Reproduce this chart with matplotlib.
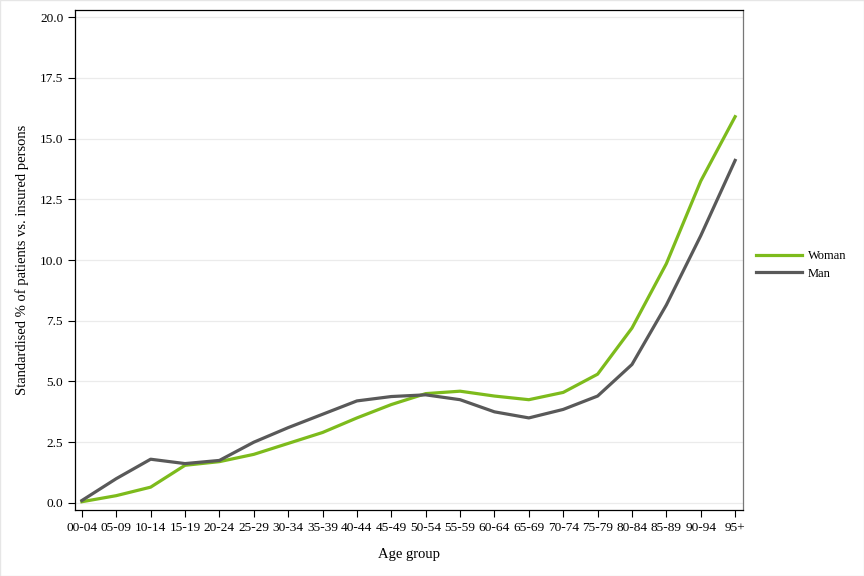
import matplotlib.pyplot as plt
import numpy as np

plt.rcParams['font.family'] = ['Liberation Serif', 'DejaVu Serif']

age_groups = ['00-04', '05-09', '10-14', '15-19', '20-24', '25-29', '30-34',
              '35-39', '40-44', '45-49', '50-54', '55-59', '60-64', '65-69',
              '70-74', '75-79', '80-84', '85-89', '90-94', '95+']
woman = [0.05, 0.3, 0.65, 1.55, 1.7, 2.0, 2.45, 2.9, 3.5, 4.05,
         4.5, 4.6, 4.4, 4.25, 4.55, 5.3, 7.2, 9.85, 13.25, 15.9]
man = [0.1, 1.0, 1.8, 1.62, 1.75, 2.5, 3.1, 3.65, 4.2, 4.38,
       4.45, 4.25, 3.75, 3.5, 3.85, 4.4, 5.7, 8.15, 11.0, 14.1]

fig = plt.figure(figsize=(8.64, 5.76), dpi=100)
ax = fig.add_axes([0.0868, 0.1146, 0.7732, 0.868])

x = np.arange(len(age_groups))
ax.plot(x, woman, color='#7dbb1c', lw=2.3, label='Woman', solid_joinstyle='round')
ax.plot(x, man, color='#595959', lw=2.3, label='Man', solid_joinstyle='round')

ax.set_xlim(-0.2, 19.23)
ax.set_ylim(-0.29, 20.29)
ax.set_xticks(x)
ax.set_xticklabels(age_groups)
ax.set_yticks(np.arange(0, 20.1, 2.5))
ax.set_yticklabels(['%.1f' % v for v in np.arange(0, 20.1, 2.5)])
ax.tick_params(labelsize=9.6, length=5, width=0.8, colors='black')
ax.grid(axis='y', color='#ebebeb', lw=0.9)
ax.set_axisbelow(True)
for s in ['top', 'left', 'bottom']:
    ax.spines[s].set_color('black')
    ax.spines[s].set_linewidth(0.9)
ax.spines['right'].set_color('#777777')
ax.spines['right'].set_linewidth(0.9)

ax.set_xlabel('Age group', fontsize=10.5, labelpad=10)
ax.set_ylabel('Standardised % of patients vs. insured persons', fontsize=10.5, labelpad=8)

ax.legend(loc='center left', bbox_to_anchor=(1.0, 0.49), frameon=False,
          fontsize=9, handlelength=3.7, borderaxespad=0.6, labelspacing=0.45,
          handletextpad=0.5)

fig.patches.append(plt.Rectangle((0, 0), 1, 1, transform=fig.transFigure,
                                 fill=False, edgecolor='#e6e6e6', lw=1))
fig.savefig('out.png', dpi=100)
